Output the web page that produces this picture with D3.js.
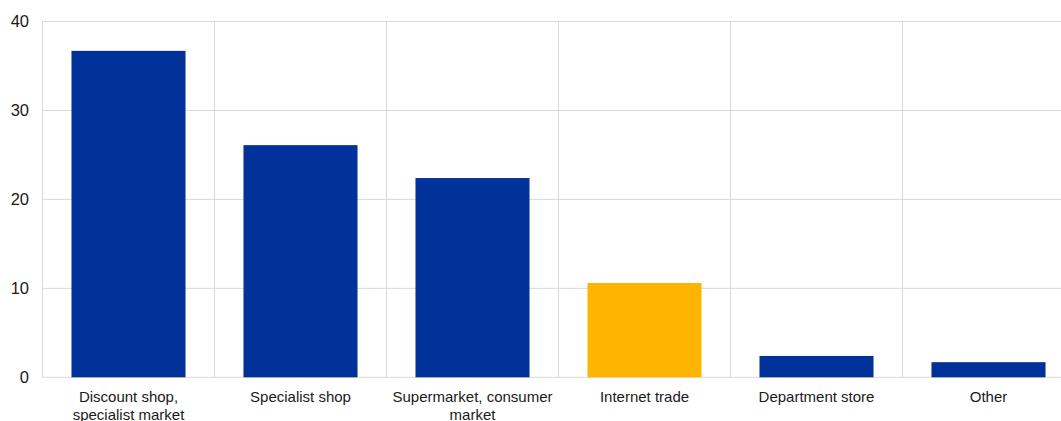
<!DOCTYPE html>
<html><head><meta charset="utf-8">
<script src="https://cdn.jsdelivr.net/npm/d3@7"></script>
<style>body{margin:0;background:#fff;} svg{display:block;}</style>
</head><body>
<svg id="c" width="1061" height="421"></svg>
<script>
const categories = [["Discount shop,","specialist market"],["Specialist shop"],["Supermarket, consumer","market"],["Internet trade"],["Department store"],["Other"]];
const values = [36.7, 26.1, 22.4, 10.6, 2.4, 1.7];
const colors = ["#003299","#003299","#003299","#FFB400","#003299","#003299"];
const yTicks = [0,10,20,30,40];

(function(){
const svg = d3.select("#c");
const mLeft = 42.5, mTop = 21.5, mBottom = 377.3, bandW = 172;
const keys = categories.map((c,i)=>i);
const x = d3.scaleBand().domain(keys).range([mLeft, mLeft + bandW*keys.length]).paddingInner(0.337).paddingOuter(0.337/2);
const y = d3.scaleLinear().domain([0,40]).range([mBottom, mTop]);
const grid = "#d9d9d9";

svg.append("g").selectAll("line").data(yTicks).join("line")
  .attr("x1", mLeft).attr("x2", 1061)
  .attr("y1", d=>y(d)).attr("y2", d=>y(d))
  .attr("stroke", grid).attr("stroke-width",1);
svg.append("g").selectAll("line").data(d3.range(keys.length)).join("line")
  .attr("x1", d=>mLeft + d*bandW).attr("x2", d=>mLeft + d*bandW)
  .attr("y1", mTop).attr("y2", mBottom)
  .attr("stroke", grid).attr("stroke-width",1);

svg.append("g").selectAll("rect").data(values).join("rect")
  .attr("x", (d,i)=>x(i)).attr("width", x.bandwidth())
  .attr("y", d=>y(d)).attr("height", d=>y(0)-y(d))
  .attr("fill", (d,i)=>colors[i]);

const yAxis = d3.axisLeft(y).tickValues(yTicks).tickSize(0).tickPadding(13.5);
const ga = svg.append("g").attr("transform",`translate(${mLeft},0)`).call(yAxis);
ga.select(".domain").remove();
ga.selectAll("text").attr("font-family","Liberation Sans, Arial, sans-serif").attr("font-size",16.5).attr("fill","#1a1a1a");

const xl = svg.append("g");
categories.forEach((lines,i)=>{
  const cx = x(i)+x.bandwidth()/2;
  const t = xl.append("text").attr("x", cx).attr("y", 401.5)
    .attr("text-anchor","middle").attr("font-family","Liberation Sans, Arial, sans-serif")
    .attr("font-size",15).attr("fill","#1a1a1a");
  lines.forEach((l,j)=>t.append("tspan").attr("x", cx).attr("dy", j?18:0).text(l));
});
})();
</script>
</body></html>
